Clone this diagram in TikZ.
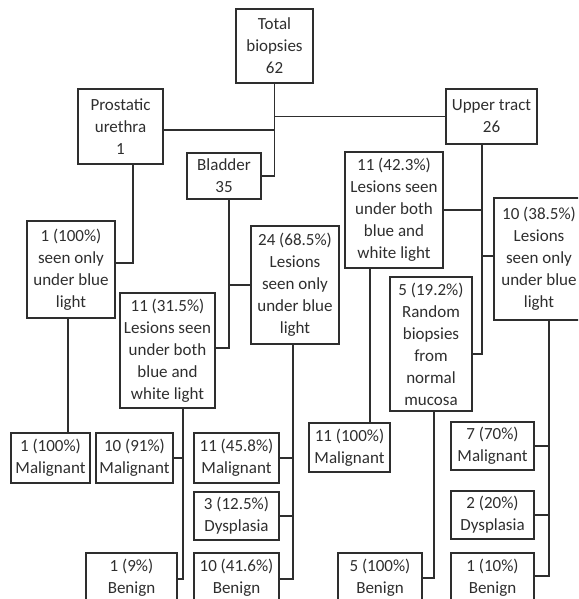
\documentclass[tikz,border=0pt]{standalone}
\usepackage{fontspec}
\setmainfont{Carlito}
\definecolor{ink}{HTML}{2E2E2E}
\tikzset{
  box/.style={draw=ink, line width=1.1pt, text=ink, inner sep=0pt, align=center,
    font=\fontsize{17}{22}\selectfont, rectangle},
  link/.style={draw=ink, line width=1.1pt}
}
\begin{document}
\begin{tikzpicture}[x=1pt, y=-1pt]
\useasboundingbox (0,0) rectangle (578,599);
\clip (0,0) rectangle (578,599);

% top levels
\node[box, minimum width=77pt, minimum height=74pt] (total) at (274.5,46) {Total\\biopsies\\62};
\node[box, minimum width=85pt, minimum height=75pt] (pu) at (120.5,126.5) {Prostatic\\urethra\\1};
\node[box, minimum width=74pt, minimum height=46pt] (bladder) at (224,176) {Bladder\\35};
\node[box, minimum width=91pt, minimum height=55pt] (upper) at (491.5,116.5) {Upper tract\\26};

% findings
\node[box, minimum width=88pt, minimum height=97pt] (pblue) at (71,269.5) {1 (100\%)\\seen only\\under blue\\light};
\node[box, minimum width=95pt, minimum height=115pt] (bboth) at (167.5,350.5) {11 (31.5\%)\\Lesions seen\\under both\\blue and\\white light};
\node[box, minimum width=88pt, minimum height=118pt] (bblue) at (295,285) {24 (68.5\%)\\Lesions\\seen only\\under blue\\light};
\node[box, minimum width=98pt, minimum height=116pt] (uboth) at (394,210) {11 (42.3\%)\\Lesions seen\\under both\\blue and\\white light};
\node[box, minimum width=82pt, minimum height=134pt] (urand) at (431,344) {5 (19.2\%)\\Random\\biopsies\\from\\normal\\mucosa};
\node[box, minimum width=90pt, minimum height=122pt] (ublue) at (539,259) {10 (38.5\%)\\Lesions\\seen only\\under blue\\light};

% histology
\node[box, minimum width=79pt, minimum height=50pt] (pmal) at (50.5,458) {1 (100\%)\\Malignant};
\node[box, minimum width=77pt, minimum height=50pt] (bbmal) at (134.5,458) {10 (91\%)\\Malignant};
\node[box, minimum width=91pt, minimum height=50pt] (bbben) at (131.5,578) {1 (9\%)\\Benign};
\node[box, minimum width=85pt, minimum height=50pt] (bumal) at (236.5,458) {11 (45.8\%)\\Malignant};
\node[box, minimum width=85pt, minimum height=48pt] (budys) at (236.5,516) {3 (12.5\%)\\Dysplasia};
\node[box, minimum width=85pt, minimum height=50pt] (buben) at (236.5,578) {10 (41.6\%)\\Benign};
\node[box, minimum width=81pt, minimum height=49pt] (umal) at (349.5,447.5) {11 (100\%)\\Malignant};
\node[box, minimum width=84pt, minimum height=50pt] (urben) at (380,578) {5 (100\%)\\Benign};
\node[box, minimum width=83pt, minimum height=48pt] (ubmal) at (492.5,446) {7 (70\%)\\Malignant};
\node[box, minimum width=83pt, minimum height=48pt] (ubdys) at (492.5,515) {2 (20\%)\\Dysplasia};
\node[box, minimum width=83pt, minimum height=50pt] (ubben) at (492.5,578) {1 (10\%)\\Benign};

% bends of the connectors
\coordinate (jp) at (274.5,130);
\coordinate (pud) at (133,263);
\coordinate (pmx) at (68,0);
\coordinate (bld) at (229,348);
\coordinate (bbd) at (183,579);
\coordinate (bud) at (293,579);
\coordinate (upd) at (482,354);
\coordinate (upb) at (482,256);
\coordinate (umx) at (370,0);
\coordinate (urd) at (434,578);
\coordinate (ubd) at (549,576);

% total -> sites
\draw[link] (total.south) -- (total.south |- bladder.east) -- (bladder.east);
\draw[link] (total.south |- upper.west) -- (upper.west);
\draw[link] (pu.east |- jp) -- (jp);

% prostatic urethra
\draw[link] (pu.south -| pud) -- (pud) -- (pblue.east |- pud);
\draw[link] (pblue.south -| pmx) -- (pmal.north -| pmx);

% bladder
\draw[link] (bladder.south -| bld) -- (bld) -- (bboth.east |- bld);
\draw[link] (bld |- bblue.west) -- (bblue.west);
\draw[link] (bboth.south -| bbd) -- (bbd) -- (bbben.east |- bbd);
\draw[link] (bbd |- bbmal.east) -- (bbmal.east);
\draw[link] (bblue.south -| bud) -- (bud) -- (buben.east |- bud);
\draw[link] (bud |- bumal.east) -- (bumal.east);
\draw[link] (bud |- budys.east) -- (budys.east);

% upper tract
\draw[link] (upper.south -| upd) -- (upd) -- (urand.east |- upd);
\draw[link] (upd |- uboth.east) -- (uboth.east);
\draw[link] (upb) -- (ublue.west |- upb);
\draw[link] (uboth.south -| umx) -- (umal.north -| umx);
\draw[link] (urand.south -| urd) -- (urd) -- (urben.east |- urd);
\draw[link] (ublue.south -| ubd) -- (ubd) -- (ubben.east |- ubd);
\draw[link] (ubd |- ubmal.east) -- (ubmal.east);
\draw[link] (ubd |- ubdys.east) -- (ubdys.east);
\end{tikzpicture}
\end{document}
